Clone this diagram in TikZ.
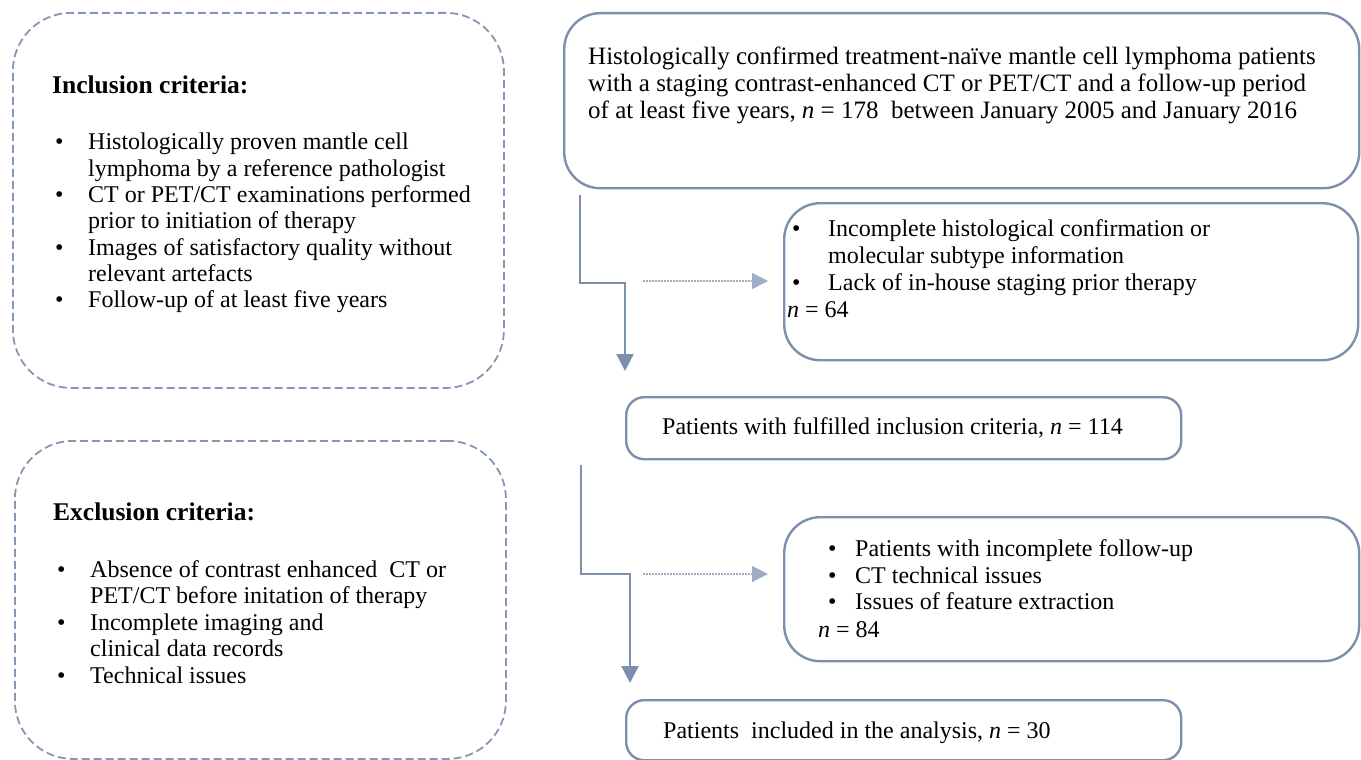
\documentclass[tikz,border=0pt]{standalone}
\usepackage{fontspec}
\setmainfont{Liberation Serif}
\usetikzlibrary{arrows.meta}
\definecolor{edgec}{HTML}{7C90AE}
\definecolor{dashc}{HTML}{8598B3}
\definecolor{dotc}{HTML}{9FAEC4}
\begin{document}
\begin{tikzpicture}[x=1pt,y=-1pt,
  solidbox/.style={draw=edgec, line width=2.4pt, rounded corners=#1, inner sep=0pt, anchor=north west},
  solidbox/.default=36pt,
  dashbox/.style={draw=dashc, line width=1.8pt, dash pattern=on 8pt off 4pt, rounded corners=58pt, inner sep=0pt, anchor=north west},
  txt/.style={anchor=base west, inner sep=0pt, font=\fontsize{24}{28}\selectfont},
  bigtxt/.style={anchor=base west, inner sep=0pt, font=\fontsize{25}{28}\selectfont},
  hd/.style={anchor=base west, inner sep=0pt, font=\fontsize{25.5}{28}\selectfont\bfseries},
  flow/.style={draw=edgec, line width=2.4pt, -{Triangle[length=17pt,width=17pt]}},
  skip/.style={draw=dotc, line width=1.5pt, dash pattern=on 2pt off 1pt, -{Triangle[length=16pt,width=16pt]}}
]
\useasboundingbox (0,0) rectangle (1361,760);

% left dashed boxes
\node[dashbox, minimum width=491pt, minimum height=375pt] (incl) at (12,12) {};
\node[dashbox, minimum width=491pt, minimum height=318pt] (excl) at (14,440) {};

% right boxes
\node[solidbox, minimum width=795pt, minimum height=175pt] (top) at (563,12) {};
\node[solidbox, minimum width=574pt, minimum height=157pt] (exa) at (783,202) {};
\node[solidbox=18pt, minimum width=555pt, minimum height=62pt] (mid) at (625,396) {};
\node[solidbox, minimum width=575pt, minimum height=144pt] (exb) at (783,516) {};
\node[solidbox=18pt, minimum width=555pt, minimum height=60pt] (fin) at (625,699) {};

% inclusion text
\node[hd] (ih) at (52,93) {Inclusion criteria:};
\node[txt] (ib1) at (55,149) {•};
\node[txt] (it1) at (88,149) {Histologically proven mantle cell};
\node[txt] (it2) at (88,176) {lymphoma by a reference pathologist};
\node[txt] (ib2) at (55,202) {•};
\node[txt] (it3) at (88,202) {CT or PET/CT examinations performed};
\node[txt] (it4) at (88,228) {prior to initiation of therapy};
\node[txt] (ib3) at (55,255) {•};
\node[txt] (it5) at (88,255) {Images of satisfactory quality without};
\node[txt] (it6) at (88,281) {relevant artefacts};
\node[txt] (ib4) at (55,307) {•};
\node[txt] (it7) at (88,307) {Follow-up of at least five years};

% exclusion text
\node[hd] (eh) at (53,520) {Exclusion criteria:};
\node[txt] (eb1) at (57,577) {•};
\node[txt] (et1) at (90,577) {Absence of contrast enhanced\ \ CT or};
\node[txt] (et2) at (90,603) {PET/CT before initation of therapy};
\node[txt] (eb2) at (57,630) {•};
\node[txt] (et3) at (90,630) {Incomplete imaging and};
\node[txt] (et4) at (90,656) {clinical data records};
\node[txt] (eb3) at (57,683) {•};
\node[txt] (et5) at (90,683) {Technical issues};

% top box text
\node[bigtxt] (tt1) at (588,65) {Histologically confirmed treatment-naïve mantle cell lymphoma patients};
\node[bigtxt] (tt2) at (588,92) {with a staging contrast-enhanced CT or PET/CT and a follow-up period};
\node[bigtxt] (tt3) at (588,118) {of at least five years, \textit{n} = 178\ \ between January 2005 and January 2016};

% first exclusion box text
\node[txt] (ab1) at (792,236) {•};
\node[txt] (at1) at (828,236) {Incomplete histological confirmation or};
\node[txt] (at2) at (828,263) {molecular subtype information};
\node[txt] (ab2) at (792,290) {•};
\node[txt] (at3) at (828,290) {Lack of in-house staging prior therapy};
\node[txt] (an) at (787,317) {\textit{n} = 64};

% middle box text
\node[txt] (mt) at (662,434) {Patients with fulfilled inclusion criteria, \textit{n} = 114};

% second exclusion box text
\node[txt] (bb1) at (828,556) {•};
\node[txt] (bt1) at (855,556) {Patients with incomplete follow-up};
\node[txt] (bb2) at (828,583) {•};
\node[txt] (bt2) at (855,583) {CT technical issues};
\node[txt] (bb3) at (828,609) {•};
\node[txt] (bt3) at (855,609) {Issues of feature extraction};
\node[txt] (bn) at (818,637) {\textit{n} = 84};

% final box text
\node[txt] (ft) at (663,738) {Patients\ \ included in the analysis, \textit{n} = 30};

% connectors
\coordinate (s1) at (580,195);
\coordinate (k1) at (580,283);
\coordinate (j1) at (625,283);
\coordinate (e1) at (625,371);
\draw[flow] (s1) -- (k1) -- (j1) -- (e1);
\coordinate (d1s) at (643,281);
\coordinate (d1e) at (768,281);
\draw[skip] (d1s) -- (d1e);

\coordinate (s2) at (581,465);
\coordinate (k2) at (581,574);
\coordinate (j2) at (630,574);
\coordinate (e2) at (630,683);
\draw[flow] (s2) -- (k2) -- (j2) -- (e2);
\coordinate (d2s) at (643,574);
\coordinate (d2e) at (768,574);
\draw[skip] (d2s) -- (d2e);
\end{tikzpicture}
\end{document}
